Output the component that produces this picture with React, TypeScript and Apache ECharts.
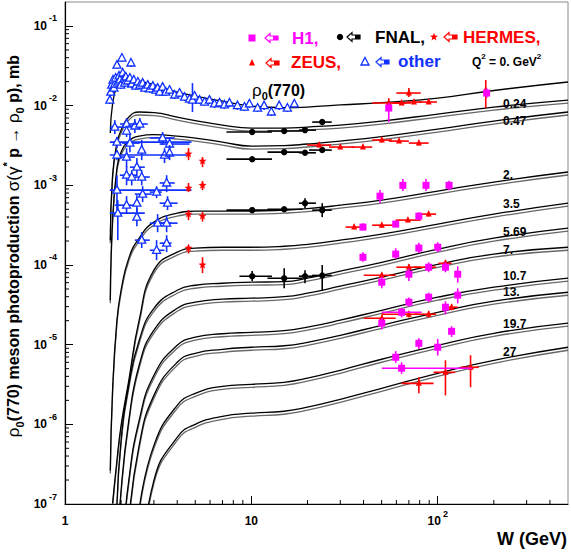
import React, { useEffect, useRef } from "react";
import * as echarts from "echarts";

const FONT = '"Liberation Sans", Arial, Helvetica, sans-serif';

// ---------- axis ticks ----------
const X_TICKS = [1, 10, 100];
const Y_TICKS = [1e-7, 1e-6, 1e-5, 1e-4, 1e-3, 1e-2, 1e-1];
const MINOR_MULT = [2, 3, 4, 5, 6, 7, 8, 9];
const X_MINOR = X_TICKS.flatMap((d) => MINOR_MULT.map((m) => m * d)).filter((v) => v < 500);
const Y_MINOR = Y_TICKS.flatMap((d) => MINOR_MULT.map((m) => m * d)).filter((v) => v < 0.2);

// ---------- model curves (sigma in mb vs W in GeV) ----------
const W_GRID = [1.75, 1.8, 1.9, 2.0, 2.2, 2.5, 3, 4, 5, 7, 10, 15, 20, 30, 50, 100, 200, 500];
const SIG_Q0 = [4.53e-3, 1.05e-2, 1.76e-2, 1.98e-2, 2.04e-2, 2.01e-2, 1.82e-2, 1.48e-2, 1.32e-2, 1.14e-2, 9.89e-3, 9.46e-3, 9.6e-3, 1.02e-2, 1.09e-2, 1.24e-2, 1.55e-2, 1.98e-2];
const SIG_Q024 = [2.05e-4, 1.34e-3, 3.39e-3, 4.93e-3, 7.19e-3, 8.32e-3, 8.19e-3, 7.19e-3, 6.5e-3, 5.71e-3, 5.23e-3, 5.23e-3, 5.39e-3, 5.71e-3, 6.41e-3, 7.84e-3, 9.6e-3, 1.175e-2];
const SIG_Q047 = [3.61e-5, 3.66e-4, 1.64e-3, 2.61e-3, 3.59e-3, 4.15e-3, 4.33e-3, 4.15e-3, 3.92e-3, 3.49e-3, 3.11e-3, 3.15e-3, 3.3e-3, 3.59e-3, 4.09e-3, 5.08e-3, 6.41e-3, 8.32e-3];
const SIG_Q2 = [2.64e-7, 2.67e-6, 2.03e-5, 4.82e-5, 1.22e-4, 2.17e-4, 3.45e-4, 4.48e-4, 4.75e-4, 4.75e-4, 4.75e-4, 4.88e-4, 5.09e-4, 5.63e-4, 6.52e-4, 8.46e-4, 1.1e-3, 1.47e-3];
const SIG_Q35 = [null, 1.02e-7, 3.52e-7, 9.7e-7, 3.57e-6, 2.03e-5, 8.61e-5, 1.45e-4, 1.63e-4, 1.67e-4, 1.67e-4, 1.72e-4, 1.82e-4, 2.05e-4, 2.44e-4, 3.26e-4, 4.35e-4, 5.97e-4];
const SIG_Q569 = [null, null, 1.0e-7, 6.3e-7, 3.09e-6, 1.13e-5, 2.86e-5, 4.82e-5, 5.57e-5, 5.9e-5, 6.08e-5, 6.17e-5, 6.83e-5, 8.36e-5, 1.08e-4, 1.58e-4, 2.17e-4, 2.9e-4];
const SIG_Q7 = [null, null, 2e-8, 1.48e-7, 1.12e-6, 5.51e-6, 1.52e-5, 2.86e-5, 3.41e-5, 3.72e-5, 3.83e-5, 4.0e-5, 4.43e-5, 5.42e-5, 7.03e-5, 1.02e-4, 1.37e-4, 1.67e-4];
const SIG_Q107 = [null, null, null, 2e-8, 1.98e-7, 1.12e-6, 4.13e-6, 9.82e-6, 1.24e-5, 1.37e-5, 1.43e-5, 1.5e-5, 1.66e-5, 2.03e-5, 2.7e-5, 3.94e-5, 5.26e-5, 6.83e-5];
const SIG_Q13 = [null, null, null, null, 6e-8, 5.44e-7, 2.31e-6, 6.01e-6, 7.8e-6, 8.75e-6, 9.28e-6, 9.69e-6, 1.07e-5, 1.31e-5, 1.75e-5, 2.55e-5, 3.51e-5, 4.55e-5];
const SIG_Q197 = [null, null, null, null, null, 8.3e-8, 5.44e-7, 1.73e-6, 2.45e-6, 3.0e-6, 3.18e-6, 3.37e-6, 3.79e-6, 4.77e-6, 6.56e-6, 9.82e-6, 1.39e-5, 1.86e-5];
const SIG_Q27 = [null, null, null, null, null, 1e-8, 1.98e-7, 6.87e-7, 1.0e-6, 1.26e-6, 1.38e-6, 1.46e-6, 1.64e-6, 2.06e-6, 2.83e-6, 4.37e-6, 6.37e-6, 9.28e-6];
const CURVES = [SIG_Q0, SIG_Q024, SIG_Q047, SIG_Q2, SIG_Q35, SIG_Q569, SIG_Q7, SIG_Q107, SIG_Q13, SIG_Q197, SIG_Q27];
const CURVE_LABELS = ["0.24", "0.47", "2.", "3.5", "5.69", "7.", "10.7", "13.", "19.7", "27"];

// ---------- data: [W, sigma, Wlo, Whi, sigmaLo, sigmaHi] ----------
const H1 = [
  [54.6, 9.33e-3, 54.6, 54.6, 6.22e-3, 1.08e-2],
  [183, 1.44e-2, 183, 183, 1.25e-2, 1.65e-2],
  [49.0, 7.31e-4, 49.0, 49.0, 5.97e-4, 8.71e-4],
  [65.0, 1.0e-3, 65.0, 65.0, 8.5e-4, 1.2e-3],
  [86.5, 1.0e-3, 86.5, 86.5, 8.5e-4, 1.2e-3],
  [115, 1.0e-3, 115, 115, 8.7e-4, 1.14e-3],
  [39.7, 2.99e-4, 39.7, 39.7, 2.7e-4, 3.35e-4],
  [59.5, 3.26e-4, 59.5, 59.5, 3.0e-4, 3.55e-4],
  [79.2, 4.1e-4, 79.2, 79.2, 3.66e-4, 4.6e-4],
  [39.7, 1.25e-4, 39.7, 39.7, 1.1e-4, 1.44e-4],
  [59.5, 1.37e-4, 59.5, 59.5, 1.2e-4, 1.62e-4],
  [79.2, 1.63e-4, 79.2, 79.2, 1.41e-4, 1.9e-4],
  [100, 1.67e-4, 100, 100, 1.45e-4, 1.93e-4],
  [50.1, 6.08e-5, 50.1, 50.1, 5.1e-5, 7.1e-5],
  [70.0, 7.66e-5, 70.0, 70.0, 6.3e-5, 9.0e-5],
  [89.4, 9.38e-5, 89.4, 89.4, 8.1e-5, 1.08e-4],
  [110, 9.38e-5, 110, 110, 8.1e-5, 1.08e-4],
  [128, 7.66e-5, 128, 128, 6.0e-5, 9.6e-5],
  [128, 4.18e-5, 128, 128, 3.3e-5, 5.1e-5],
  [70.0, 3.41e-5, 70.0, 70.0, 3.0e-5, 3.9e-5],
  [89.4, 3.94e-5, 89.4, 89.4, 3.4e-5, 4.5e-5],
  [110, 2.95e-5, 110, 110, 2.4e-5, 3.5e-5],
  [64.0, 2.55e-5, 50.1, 82, 2.2e-5, 2.9e-5],
  [50.1, 1.86e-5, 50.1, 50.1, 1.55e-5, 2.15e-5],
  [118.7, 1.47e-5, 118.7, 118.7, 1.25e-5, 1.7e-5],
  [79.2, 1.04e-5, 79.2, 79.2, 8.8e-6, 1.2e-5],
  [100, 9.28e-6, 100, 100, 7.3e-6, 1.18e-5],
  [59.5, 6.95e-6, 59.5, 59.5, 5.9e-6, 8.3e-6],
  [64.0, 5.06e-6, 50.1, 152, 4.3e-6, 6.0e-6],
];

const FNAL = [
  [10.1, 4.66e-3, 7.35, 12.9, 4.45e-3, 4.9e-3],
  [15.0, 4.8e-3, 12.2, 18.8, 4.6e-3, 5.05e-3],
  [19.4, 4.93e-3, 18.0, 22.2, 4.7e-3, 5.2e-3],
  [24.0, 6.22e-3, 21.2, 27.0, 5.7e-3, 6.8e-3],
  [10.1, 2.13e-3, 7.35, 12.9, 2.03e-3, 2.24e-3],
  [15.0, 2.61e-3, 12.2, 18.8, 2.49e-3, 2.74e-3],
  [19.4, 2.56e-3, 18.0, 22.2, 2.44e-3, 2.69e-3],
  [24.0, 2.77e-3, 20.4, 27.0, 2.6e-3, 2.95e-3],
  [10.1, 4.88e-4, 7.35, 12.9, 4.65e-4, 5.12e-4],
  [15.0, 5.0e-4, 12.2, 18.8, 4.75e-4, 5.25e-4],
  [19.4, 5.97e-4, 18.0, 22.2, 5.18e-4, 6.9e-4],
  [24.0, 4.88e-4, 21.2, 27.0, 3.99e-4, 5.97e-4],
  [10.1, 7.23e-5, 8.63, 12.9, 6.3e-5, 8.4e-5],
  [15.0, 6.83e-5, 12.2, 18.8, 5.11e-5, 9.12e-5],
  [19.4, 7.23e-5, 18.0, 22.2, 5.9e-5, 8.61e-5],
  [24.0, 7.4e-5, 21.2, 27.0, 4.82e-5, 1.0e-4],
];

const HERMES = [
  [4.6, 2.47e-3, 4.6, 4.6, 2.07e-3, 2.93e-3],
  [5.47, 2.01e-3, 5.47, 5.47, 1.69e-3, 2.26e-3],
  [4.6, 9.23e-4, 4.6, 4.6, 8.22e-4, 1.07e-3],
  [5.47, 1.0e-3, 5.47, 5.47, 8.71e-4, 1.13e-3],
  [4.6, 4.35e-4, 4.6, 4.6, 3.66e-4, 4.88e-4],
  [5.47, 4.1e-4, 5.47, 5.47, 3.5e-4, 4.6e-4],
  [4.6, 1.63e-4, 4.6, 4.6, 1.4e-4, 1.8e-4],
  [5.47, 1.0e-4, 5.47, 5.47, 7.9e-5, 1.25e-4],
];

const ZEUS = [
  [54.6, 1.08e-2, 44.5, 67.5, 9.33e-3, 1.24e-2],
  [64.0, 1.08e-2, 57.0, 72.0, 1.02e-2, 1.14e-2],
  [70.0, 1.44e-2, 60.0, 81.0, 1.28e-2, 1.66e-2],
  [74.6, 1.11e-2, 68.0, 82.0, 1.05e-2, 1.18e-2],
  [89.4, 1.11e-2, 79.0, 99.0, 1.05e-2, 1.18e-2],
  [181, 1.57e-2, 181, 181, 9.33e-3, 2.1e-2],
  [23.1, 3.2e-3, 19.9, 26.8, 3.0e-3, 3.4e-3],
  [30.0, 3.02e-3, 26.1, 35.6, 2.85e-3, 3.2e-3],
  [39.7, 3.02e-3, 34.5, 44.5, 2.85e-3, 3.2e-3],
  [50.1, 3.7e-3, 44.5, 56.8, 3.45e-3, 3.95e-3],
  [62.0, 3.59e-3, 54.6, 70.0, 3.4e-3, 3.8e-3],
  [79.2, 3.39e-3, 70.0, 89.4, 3.15e-3, 3.6e-3],
  [35.6, 2.99e-4, 32.0, 40.1, 2.8e-4, 3.2e-4],
  [50.1, 3.16e-4, 44.5, 59.5, 2.95e-4, 3.35e-4],
  [69.2, 3.66e-4, 59.5, 81.0, 3.45e-4, 3.9e-4],
  [89.4, 4.35e-4, 79.2, 98.0, 4.05e-4, 4.65e-4],
  [50.1, 7.45e-5, 40.1, 59.5, 6.9e-5, 8.0e-5],
  [70.0, 9.38e-5, 60.0, 81.0, 8.6e-5, 1.02e-4],
  [89.4, 9.38e-5, 74.6, 98.0, 8.6e-5, 1.02e-4],
  [110, 1.05e-4, 101, 118.7, 9.5e-5, 1.15e-4],
  [50.1, 2.15e-5, 40.1, 59.5, 1.95e-5, 2.35e-5],
  [70.0, 2.41e-5, 50.1, 79.2, 2.2e-5, 2.65e-5],
  [89.4, 2.41e-5, 74.6, 98.0, 2.2e-5, 2.65e-5],
  [118.7, 2.95e-5, 110, 128, 2.7e-5, 3.2e-5],
  [79.2, 3.27e-6, 64.0, 95.0, 2.45e-6, 3.89e-6],
  [110, 4.5e-6, 95.0, 124, 2.31e-6, 6.37e-6],
  [150, 5.2e-6, 133, 166, 2.92e-6, 7.36e-6],
];

// "other" experiments, Q^2 > 0 points: [W, sigma, Wlo, Whi, sigmaLo, sigmaHi]
const OTHER = [
  [1.85, 5.38e-3, 1.74, 2.09, 4.4e-3, 6.59e-3],
  [2.14, 5.88e-3, 1.97, 2.37, 4.93e-3, 6.98e-3],
  [2.37, 5.55e-3, 2.17, 2.58, 4.53e-3, 6.79e-3],
  [2.52, 5.88e-3, 2.31, 2.78, 4.93e-3, 6.98e-3],
  [2.14, 4.8e-3, 2.14, 2.14, 4.04e-3, 5.55e-3],
  [1.9, 3.49e-3, 1.74, 4.77, 2.93e-3, 4.04e-3],
  [2.23, 3.39e-3, 2.02, 2.52, 2.61e-3, 4.4e-3],
  [2.58, 2.77e-3, 2.58, 2.58, 2.07e-3, 3.7e-3],
  [3.34, 3.93e-3, 2.85, 3.88, 3.2e-3, 4.66e-3],
  [3.64, 3.3e-3, 3.22, 4.66, 2.77e-3, 4.04e-3],
  [3.42, 2.4e-3, 3.42, 3.42, 1.9e-3, 2.93e-3],
  [3.64, 2.54e-3, 3.64, 3.64, 2.07e-3, 3.2e-3],
  [1.9, 2.4e-3, 1.74, 4.66, 2.07e-3, 2.77e-3],
  [2.14, 2.26e-3, 1.97, 2.37, 1.69e-3, 2.93e-3],
  [2.43, 1.69e-3, 2.23, 2.68, 1.31e-3, 2.2e-3],
  [2.14, 1.34e-3, 1.97, 2.43, 1.0e-3, 1.74e-3],
  [2.28, 1.27e-3, 2.28, 2.28, 1.0e-3, 1.55e-3],
  [2.58, 1.27e-3, 2.37, 2.85, 1.0e-3, 1.55e-3],
  [1.9, 8.71e-4, 1.74, 4.77, 4.88e-4, 1.34e-3],
  [3.1, 8.22e-4, 2.85, 3.3, 6.9e-4, 9.77e-4],
  [3.51, 1.07e-3, 3.22, 3.88, 8.22e-4, 1.34e-3],
  [2.61, 7.75e-4, 2.37, 2.92, 6.15e-4, 9.77e-4],
  [3.55, 5.97e-4, 3.22, 4.02, 4.88e-4, 7.31e-4],
  [2.14, 5.63e-4, 1.85, 2.52, 4.48e-4, 7.31e-4],
  [2.43, 5.97e-4, 2.43, 2.43, 4.61e-4, 7.53e-4],
  [1.92, 4.48e-4, 1.74, 2.68, 2.05e-4, 6.52e-4],
  [2.43, 3.99e-4, 2.43, 2.43, 3.07e-4, 5.18e-4],
  [3.14, 3.35e-4, 2.85, 3.73, 2.58e-4, 4.35e-4],
  [3.51, 3.35e-4, 3.22, 4.02, 2.58e-4, 4.23e-4],
  [2.58, 2.05e-4, 2.37, 2.85, 1.63e-4, 2.58e-4],
  [3.1, 1.53e-4, 2.85, 3.42, 1.15e-4, 2.05e-4],
  [3.51, 1.88e-4, 3.22, 3.73, 1.45e-4, 2.37e-4],
];

// "other" experiments, photoproduction band: [W, sigma, sigmaLo, sigmaHi]
const OTHER_BAND = [
  [1.74, 0.01175, 0.0105, 0.0132], [1.76, 0.0148, 0.0132, 0.0166], [1.78, 0.0181, 0.0162, 0.0204],
  [1.81, 0.021, 0.0187, 0.0236], [1.83, 0.0166, 0.0148, 0.0187], [1.85, 0.0187, 0.0166, 0.021],
  [1.87, 0.0222, 0.0198, 0.0249], [1.9, 0.0323, 0.0288, 0.0363], [1.92, 0.0198, 0.0176, 0.0222],
  [1.95, 0.0236, 0.021, 0.0264], [1.97, 0.021, 0.0187, 0.0236], [1.99, 0.0181, 0.0162, 0.0204],
  [2.02, 0.0396, 0.0353, 0.0445], [2.04, 0.0257, 0.0229, 0.0288], [2.07, 0.0216, 0.0192, 0.0242],
  [2.09, 0.0192, 0.0171, 0.0216], [2.12, 0.0229, 0.0204, 0.0257], [2.17, 0.0204, 0.0181, 0.0229],
  [2.23, 0.0222, 0.0198, 0.0249], [2.26, 0.0343, 0.0305, 0.0385], [2.28, 0.0187, 0.0166, 0.021],
  [2.34, 0.021, 0.0187, 0.0236], [2.4, 0.0176, 0.0157, 0.0198], [2.46, 0.0198, 0.0176, 0.0222],
  [2.52, 0.0181, 0.0162, 0.0204], [2.61, 0.0192, 0.0171, 0.0216], [2.68, 0.0166, 0.0148, 0.0187],
  [2.78, 0.0181, 0.0162, 0.0204], [2.85, 0.0162, 0.0144, 0.0181], [2.96, 0.0176, 0.0157, 0.0198],
  [3.07, 0.0157, 0.014, 0.0176], [3.14, 0.0166, 0.0148, 0.0187], [3.22, 0.0148, 0.0132, 0.0166],
  [3.34, 0.0171, 0.0152, 0.0192], [3.47, 0.0148, 0.0132, 0.0166], [3.64, 0.0157, 0.014, 0.0176],
  [3.88, 0.0136, 0.0121, 0.0152], [4.12, 0.0144, 0.0128, 0.0162], [4.38, 0.0128, 0.0114, 0.0144],
  [4.66, 0.0121, 0.0108, 0.0136], [4.83, 0.01175, 0.00832, 0.0192], [4.96, 0.0132, 0.01175, 0.0148],
  [5.27, 0.01175, 0.0105, 0.0132], [5.61, 0.0111, 0.01, 0.0124], [5.96, 0.01175, 0.0105, 0.0132],
  [6.34, 0.0105, 0.00933, 0.01175], [6.75, 0.0108, 0.0096, 0.0121], [7.17, 0.0102, 0.00906, 0.0114],
  [7.63, 0.0108, 0.0096, 0.0121], [8.42, 0.01, 0.00881, 0.0111], [9.18, 0.0096, 0.00855, 0.0108],
  [9.76, 0.0105, 0.00933, 0.01175], [10.8, 0.00933, 0.00832, 0.0105], [11.7, 0.01, 0.00881, 0.0111],
  [12.8, 0.00832, 0.0074, 0.00933], [14.1, 0.01, 0.00881, 0.0111], [15.6, 0.00933, 0.00832, 0.0105],
  [17.0, 0.0105, 0.00933, 0.01175],
];

const C_H1 = "#ff00ff";
const C_RED = "#ff0000";
const C_BLUE = "#1030ff";
const C_BLACK = "#000000";

function starPoints(cx: number, cy: number, R: number, r: number) {
  const pts: number[][] = [];
  for (let i = 0; i < 10; i++) {
    const a = -Math.PI / 2 + (i * Math.PI) / 5;
    const rad = i % 2 === 0 ? R : r;
    pts.push([cx + rad * Math.cos(a), cy + rad * Math.sin(a)]);
  }
  return pts;
}

function markerEl(kind: string, x: number, y: number, color: string): any {
  switch (kind) {
    case "square":
      return { type: "rect", shape: { x: x - 3.5, y: y - 3.5, width: 7, height: 7 }, style: { fill: color } };
    case "circle":
      return { type: "circle", shape: { cx: x, cy: y, r: 3.2 }, style: { fill: color } };
    case "star":
      return { type: "polygon", shape: { points: starPoints(x, y, 4.2, 1.8) }, style: { fill: color } };
    case "tri":
      return { type: "polygon", shape: { points: [[x, y - 4], [x + 3, y + 2.5], [x - 3, y + 2.5]] }, style: { fill: color } };
    default:
      return {
        type: "polygon",
        shape: { points: [[x, y - 4.5], [x + 4, y + 3], [x - 4, y + 3]] },
        style: { fill: "#ffffff", stroke: color, lineWidth: 1.3 },
      };
  }
}

function errRender(kind: string, color: string) {
  return (params: any, api: any) => {
    const w = api.value(0);
    const s = api.value(1);
    const c = api.coord([w, s]);
    const l = api.coord([api.value(2), s]);
    const h = api.coord([api.value(3), s]);
    const lo = api.coord([w, api.value(4)]);
    const hi = api.coord([w, api.value(5)]);
    const kids: any[] = [];
    if (h[0] - l[0] > 1) {
      kids.push({ type: "line", shape: { x1: l[0], y1: c[1], x2: h[0], y2: c[1] }, style: { stroke: color, lineWidth: 1.6 } });
    }
    if (lo[1] - hi[1] > 1) {
      kids.push({ type: "line", shape: { x1: c[0], y1: lo[1], x2: c[0], y2: hi[1] }, style: { stroke: color, lineWidth: 1.6 } });
    }
    kids.push(markerEl(kind, c[0], c[1], color));
    return { type: "group", children: kids };
  };
}

function pointSeries(data: number[][], kind: string, color: string) {
  return {
    type: "custom",
    data,
    encode: { x: 0, y: 1 },
    renderItem: errRender(kind, color),
    clip: true,
    silent: true,
    z: 4,
  };
}

function legendArrow(x: number, y: number, color: string): any {
  return {
    type: "group",
    x,
    y,
    children: [
      {
        type: "polygon",
        shape: { points: [[0, 0], [5, -4.5], [5, -2], [13, -2], [13, 2], [5, 2], [5, 4.5]] },
        style: { fill: "#ffffff", stroke: color, lineWidth: 1.2 },
      },
      { type: "rect", shape: { x: 8, y: -2, width: 5, height: 4 }, style: { fill: color } },
    ],
  };
}

function legendText(x: number, y: number, text: string, color: string): any {
  return {
    type: "text",
    x,
    y,
    style: { text, fill: color, font: `bold 17px ${FONT}`, align: "left", verticalAlign: "middle" },
  };
}

const LABEL_Y = [104, 121, 175, 204, 232, 250, 276, 292, 324, 352];

function buildOption(): any {
  const curveSeries = CURVES.map((arr, k) => ({
    type: "line",
    data: W_GRID.map((w, i) => [w, arr[i]]).filter((d) => d[1] != null),
    showSymbol: false,
    smooth: 0.5,
    clip: true,
    silent: true,
    z: 2,
    lineStyle: {
      color: "#000",
      width: 1.3,
      shadowColor: k === 0 ? "rgba(0,0,0,0)" : "rgba(40,40,40,0.7)",
      shadowBlur: 0,
      shadowOffsetY: k === 0 ? 0 : 3,
    },
  }));

  const richAxis = {
    b: { fontSize: 12, fontWeight: "bold", fontFamily: FONT, color: "#000", lineHeight: 24, verticalAlign: "middle" },
    s: { fontSize: 9, fontWeight: "bold", fontFamily: FONT, color: "#000", lineHeight: 9, verticalAlign: "top", padding: [0, 0, 0, 2] },
  };

  const graphics: any[] = [];
  // legend row 1
  graphics.push(markerEl("square", 252, 38, C_H1));
  graphics.push(legendArrow(265, 38, C_H1));
  graphics.push(legendText(292, 38, "H1,", C_H1));
  graphics.push(markerEl("circle", 340, 37, C_BLACK));
  graphics.push(legendArrow(347, 37, C_BLACK));
  graphics.push(legendText(375, 37, "FNAL,", C_BLACK));
  graphics.push(markerEl("star", 434, 37, C_RED));
  graphics.push(legendArrow(444, 37, C_RED));
  graphics.push(legendText(463, 37, "HERMES,", C_RED));
  // legend row 2
  graphics.push(markerEl("tri", 252, 63, C_RED));
  graphics.push(legendArrow(266, 63, C_RED));
  graphics.push(legendText(291, 62, "ZEUS,", C_RED));
  graphics.push(markerEl("otri", 365, 62, C_BLUE));
  graphics.push(legendArrow(376, 62, C_BLUE));
  graphics.push(legendText(398, 61, "other", C_BLUE));
  graphics.push({
    type: "text",
    x: 472,
    y: 62,
    style: {
      text: "{b|Q}{s|2}{b| = 0. GeV}{s|2}",
      align: "left",
      verticalAlign: "middle",
      rich: {
        b: { fontSize: 12, fontWeight: "bold", fontFamily: FONT, fill: "#000", lineHeight: 20, verticalAlign: "middle" },
        s: { fontSize: 8, fontWeight: "bold", fontFamily: FONT, fill: "#000", lineHeight: 9, verticalAlign: "top" },
      },
    },
  });
  // rho label
  graphics.push({
    type: "text",
    x: 252,
    y: 90,
    style: {
      text: "{g|ρ}{u|0}{b|(770)}",
      align: "left",
      verticalAlign: "middle",
      rich: {
        g: { fontSize: 17, fontFamily: FONT, fill: "#000", lineHeight: 22, verticalAlign: "middle" },
        b: { fontSize: 16, fontWeight: "bold", fontFamily: FONT, fill: "#000", lineHeight: 22, verticalAlign: "middle" },
        u: { fontSize: 11, fontWeight: "bold", fontFamily: FONT, fill: "#000", lineHeight: 12, verticalAlign: "bottom" },
      },
    },
  });
  // curve labels
  CURVE_LABELS.forEach((t, i) => {
    graphics.push({
      type: "text",
      x: 503,
      y: LABEL_Y[i],
      style: { text: t, fill: "#000", font: `bold 12px ${FONT}`, align: "left", verticalAlign: "middle" },
    });
  });
  // y axis title
  graphics.push({
    type: "text",
    x: 13,
    y: 246,
    rotation: Math.PI / 2,
    style: {
      text: "{g|ρ}{u|0}{b|(770) meson photoproduction }{g|σ(γ}{p|*}{b| p → }{g|ρ}{u|0}{b| p), mb}",
      align: "center",
      verticalAlign: "middle",
      rich: {
        g: { fontSize: 17, fontFamily: FONT, fill: "#000", lineHeight: 24, verticalAlign: "middle" },
        b: { fontSize: 16, fontWeight: "bold", fontFamily: FONT, fill: "#000", lineHeight: 24, verticalAlign: "middle" },
        u: { fontSize: 11, fontWeight: "bold", fontFamily: FONT, fill: "#000", lineHeight: 12, verticalAlign: "bottom" },
        p: { fontSize: 11, fontWeight: "bold", fontFamily: FONT, fill: "#000", lineHeight: 12, verticalAlign: "top" },
      },
    },
  });
  // x axis title
  graphics.push({
    type: "text",
    x: 567,
    y: 539,
    style: { text: "W (GeV)", fill: "#000", font: `bold 18px ${FONT}`, align: "right", verticalAlign: "middle" },
  });

  return {
    animation: false,
    backgroundColor: "#ffffff",
    textStyle: { fontFamily: FONT },
    grid: { left: 65, right: 3, top: 2, bottom: 51, show: true, borderColor: "#8a8a8a", borderWidth: 1, backgroundColor: "transparent" },
    xAxis: {
      type: "log",
      logBase: 10,
      min: 1,
      max: 500,
      axisLine: { show: true, onZero: false, lineStyle: { color: "#000", width: 1.2 } },
      axisTick: { show: true, inside: true, length: 8, customValues: X_TICKS, lineStyle: { color: "#000", width: 1 } },
      axisLabel: {
        customValues: X_TICKS,
        margin: 5,
        formatter: (v: number) => {
          const e = Math.round(Math.log10(v));
          if (e === 0) return "{b|1}";
          if (e === 1) return "{b|10}";
          return `{b|10}{s|${e}}`;
        },
        rich: richAxis,
      },
      splitLine: { show: false },
      minorTick: { show: false },
    },
    yAxis: {
      type: "log",
      logBase: 10,
      min: 1e-7,
      max: 0.2,
      axisLine: { show: true, onZero: false, lineStyle: { color: "#000", width: 1.2 } },
      axisTick: { show: true, inside: true, length: 8, customValues: Y_TICKS, lineStyle: { color: "#000", width: 1 } },
      axisLabel: {
        customValues: Y_TICKS,
        margin: 8,
        formatter: (v: number) => `{b|10}{s|${Math.round(Math.log10(v))}}`,
        rich: richAxis,
      },
      splitLine: { show: false },
      minorTick: { show: false },
    },
    graphic: { elements: graphics },
    series: [
      ...curveSeries,
      {
        type: "custom",
        data: Y_MINOR.map((v) => [1, v]),
        encode: { x: 0, y: 1 },
        clip: false,
        silent: true,
        z: 5,
        renderItem: (params: any, api: any) => {
          const p = api.coord([api.value(0), api.value(1)]);
          return { type: "line", shape: { x1: p[0], y1: p[1], x2: p[0] + 4, y2: p[1] }, style: { stroke: "#000", lineWidth: 1 } };
        },
      },
      {
        type: "custom",
        data: X_MINOR.map((v) => [v, 1e-7]),
        encode: { x: 0, y: 1 },
        clip: false,
        silent: true,
        z: 5,
        renderItem: (params: any, api: any) => {
          const p = api.coord([api.value(0), api.value(1)]);
          return { type: "line", shape: { x1: p[0], y1: p[1], x2: p[0], y2: p[1] - 4 }, style: { stroke: "#000", lineWidth: 1 } };
        },
      },
      pointSeries(OTHER_BAND.map((d) => [d[0], d[1], d[0], d[0], d[2], d[3]]), "otri", C_BLUE),
      pointSeries(OTHER, "otri", C_BLUE),
      pointSeries(FNAL, "circle", C_BLACK),
      pointSeries(HERMES, "star", C_RED),
      pointSeries(ZEUS, "tri", C_RED),
      pointSeries(H1, "square", C_H1),
    ],
  };
}

export default function App() {
  const ref = useRef<HTMLDivElement>(null);
  useEffect(() => {
    if (!ref.current) return;
    const chart = echarts.init(ref.current, null, { renderer: "svg" });
    chart.setOption(buildOption());
    return () => chart.dispose();
  }, []);
  return (
    <div
      ref={ref}
      style={{ position: "absolute", left: 0, top: 0, width: 571, height: 555, background: "#ffffff" }}
    />
  );
}
